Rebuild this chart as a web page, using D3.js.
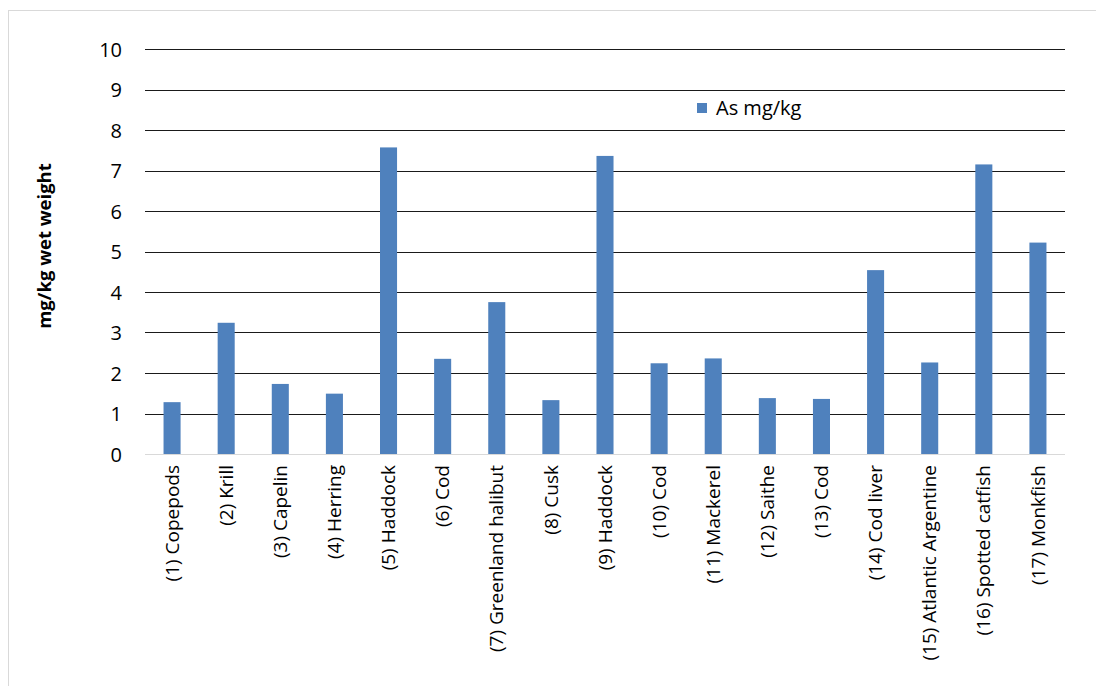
<!DOCTYPE html>
<html><head><meta charset="utf-8">
<script src="https://cdnjs.cloudflare.com/ajax/libs/d3/7.8.5/d3.min.js"></script>
<style>body{margin:0;background:#fff;} svg{display:block;font-family:"Open Sans",sans-serif;}</style>
</head><body><svg id="c" width="1096" height="686"></svg>
<script>
const categories = ["(1) Copepods","(2) Krill","(3) Capelin","(4) Herring","(5) Haddock","(6) Cod","(7) Greenland halibut","(8) Cusk","(9) Haddock","(10) Cod","(11) Mackerel","(12) Saithe","(13) Cod","(14) Cod liver","(15) Atlantic Argentine","(16) Spotted catfish","(17) Monkfish"];
const values = [1.28,3.24,1.73,1.49,7.57,2.35,3.75,1.33,7.36,2.24,2.36,1.38,1.36,4.54,2.26,7.15,5.22];
const yTicks = [0,1,2,3,4,5,6,7,8,9,10];
const seriesName = "As mg/kg";
const yTitle = "mg/kg wet weight";

const svg = d3.select("#c");
svg.append("rect").attr("x",8.5).attr("y",10.5).attr("width",1100).attr("height",700)
  .attr("fill","none").attr("stroke","#d9d9d9");

const x = d3.scaleBand().domain(categories).range([145,1065]).paddingInner(0.685).paddingOuter(0.3425);
const y = d3.scaleLinear().domain([0,10]).range([454,49]);

// gridlines
svg.append("g").selectAll("line").data(yTicks.filter(d=>d>0)).join("line")
  .attr("x1",145).attr("x2",1065).attr("y1",d=>Math.round(y(d))+0.5).attr("y2",d=>Math.round(y(d))+0.5)
  .attr("stroke","#1a1a1a").attr("stroke-width",1.2);

// y axis
const ya = svg.append("g").attr("transform","translate(145,0)")
  .call(d3.axisLeft(y).tickValues(yTicks).tickSize(0).tickPadding(23).tickFormat(d3.format("d")));
ya.select(".domain").remove();
ya.selectAll("text").attr("font-size",20).attr("fill","#000").attr("font-family","Open Sans").attr("dy","0.36em");

// bars
svg.append("g").selectAll("rect").data(values).join("rect")
  .attr("x",(d,i)=>x(categories[i])).attr("width",x.bandwidth())
  .attr("y",d=>y(d)).attr("height",d=>y(0)-y(d))
  .attr("fill","#4f81bd");

// zero axis line
svg.append("line").attr("x1",145).attr("x2",1065).attr("y1",454.5).attr("y2",454.5)
  .attr("stroke","#d9d9d9").attr("stroke-width",1.2);

// x axis labels
const xa = svg.append("g").attr("transform","translate(0,454)")
  .call(d3.axisBottom(x).tickSize(0).tickPadding(0));
xa.select(".domain").remove();
xa.selectAll("text").attr("font-size",19).attr("fill","#000").attr("font-family","Open Sans")
  .attr("text-anchor","end").attr("transform","translate(0,11) rotate(-90)").attr("x",0).attr("y",0).attr("dy","0.35em");

// y title
svg.append("text").attr("transform","translate(45,246) rotate(-90)").attr("text-anchor","middle")
  .attr("dy","0.35em").attr("font-size",18.5).attr("font-weight","bold").attr("font-family","Open Sans").text(yTitle);

// legend
svg.append("rect").attr("x",697).attr("y",103).attr("width",10).attr("height",10).attr("fill","#4f81bd");
svg.append("text").attr("x",716).attr("y",108).attr("dy","0.35em").attr("font-size",20).attr("font-family","Open Sans").text(seriesName);
</script></body></html>
